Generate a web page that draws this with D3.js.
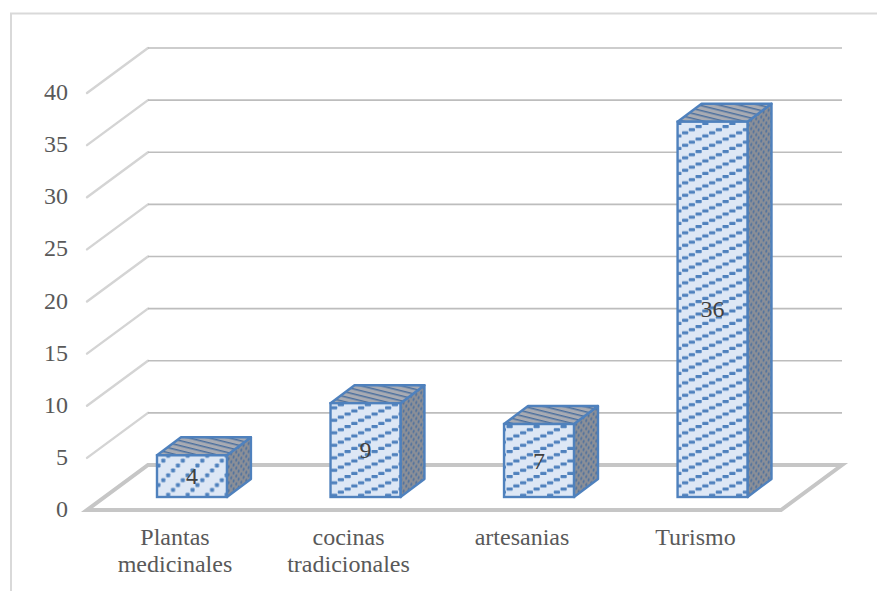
<!DOCTYPE html>
<html><head><meta charset="utf-8">
<script src="https://cdn.jsdelivr.net/npm/d3@7"></script>
<style>html,body{margin:0;padding:0;background:#fff}svg{display:block}text{font-family:"Liberation Serif",serif;fill:#595959}</style>
</head><body><svg id="c" width="877" height="591"></svg>
<script>
const categories=[["Plantas","medicinales"],["cocinas","tradicionales"],["artesanias"],["Turismo"]];
const values=[4,9,7,36];
const tickValues=[0,5,10,15,20,25,30,35,40];
const W=877,H=591;
const svg=d3.select("#c");
const dx=61,dy=45,bdx=24,bdy=18;
const x=d3.scaleBand().domain(d3.range(values.length)).range([157,747.5]).paddingInner(0.597).paddingOuter(0);
const y=d3.scaleLinear().domain([0,40]).range([510,93]);
const defs=svg.append("defs");
const blue="#4f81bd";
function frontPattern(id,w,h,rw,rh,n){
  const p=defs.append("pattern").attr("id",id).attr("patternUnits","userSpaceOnUse").attr("width",w).attr("height",h);
  p.append("rect").attr("width",w).attr("height",h).attr("fill","#dde7f5");
  d3.range(n).forEach(i=>{
    p.append("rect").attr("x",(i+.5)*w/n-rw/2).attr("y",h-(i+.5)*h/n-rh/2).attr("width",rw).attr("height",rh).attr("rx",.8).attr("fill",blue);
  });
}
frontPattern("f0",19.5,19.5,4,4,4);
frontPattern("f1",27,12.5,6.2,3.3,4);
const ps=defs.append("pattern").attr("id","side").attr("patternUnits","userSpaceOnUse").attr("width",5).attr("height",8).attr("patternTransform","skewY(-20)");
ps.append("rect").attr("width",5).attr("height",8).attr("fill","#8b8f97");
ps.append("ellipse").attr("cx",1.2).attr("cy",2).attr("rx",.9).attr("ry",1.7).attr("fill","#4a6f9f");
ps.append("ellipse").attr("cx",3.7).attr("cy",6).attr("rx",.9).attr("ry",1.7).attr("fill","#4a6f9f");
const pt=defs.append("pattern").attr("id","top").attr("patternUnits","userSpaceOnUse").attr("width",30).attr("height",5).attr("patternTransform","skewY(14)");
pt.append("rect").attr("width",30).attr("height",5).attr("fill","#a8abb3");
pt.append("rect").attr("y",0).attr("width",30).attr("height",1.5).attr("fill","#4b6f9e");

svg.append("path").attr("d",`M11,591V13.5H${W}`).attr("fill","none").attr("stroke","#d9d9d9").attr("stroke-width",2);

const grid=svg.append("g");
tickValues.filter(t=>t>0).forEach(t=>{
  grid.append("path").attr("d",`M87,${y(t)}L${87+dx},${y(t)-dy}`)
   .attr("fill","none").attr("stroke","#d4d4d4").attr("stroke-width",2.4).attr("stroke-linecap","round");
  grid.append("path").attr("d",`M${87+dx},${y(t)-dy}H${781+dx}`)
   .attr("fill","none").attr("stroke","#bdbdbd").attr("stroke-width",1.6);
});
svg.append("path").attr("d",`M87,${y(0)}H781L${781+dx},${y(0)-dy}H${87+dx}Z`)
  .attr("fill","#fff").attr("stroke","#c6c6c6").attr("stroke-width",4);

const base=497;
const sy=v=>base-(y(0)-y(v));
const bars=svg.selectAll(".bar").data(values).join("g").attr("class","bar");
bars.each(function(v,i){
  const g=d3.select(this),x0=x(i),w=x.bandwidth(),t=sy(v),pid=i==0?"f0":"f1";
  g.append("path").attr("d",`M${x0+w},${base}L${x0+w+bdx},${base-bdy}V${t-bdy}L${x0+w},${t}Z`)
    .attr("fill","url(#side)").attr("stroke",blue).attr("stroke-width",2.4).attr("stroke-linejoin","round");
  g.append("path").attr("d",`M${x0},${t}L${x0+bdx},${t-bdy}H${x0+w+bdx}L${x0+w},${t}Z`)
    .attr("fill","url(#top)").attr("stroke",blue).attr("stroke-width",2.4).attr("stroke-linejoin","round");
  g.append("rect").attr("x",x0).attr("y",t).attr("width",w).attr("height",base-t)
    .attr("fill",`url(#${pid})`).attr("stroke",blue).attr("stroke-width",2.4);
  g.append("text").attr("x",x0+w/2).attr("y",(t+base)/2+8).attr("text-anchor","middle").attr("font-size",24).style("fill","#404040").text(v);
});

svg.selectAll(".tick").data(tickValues).join("text").attr("class","tick")
  .attr("x",68).attr("y",t=>y(t)+7).attr("text-anchor","end").attr("font-size",24).text(t=>t);

categories.forEach((lines,i)=>{
  lines.forEach((s,k)=>{
    svg.append("text").attr("x",x(i)+x.bandwidth()/2-17).attr("y",545+k*26.5).attr("text-anchor","middle").attr("font-size",24).text(s);
  });
});
</script></body></html>
